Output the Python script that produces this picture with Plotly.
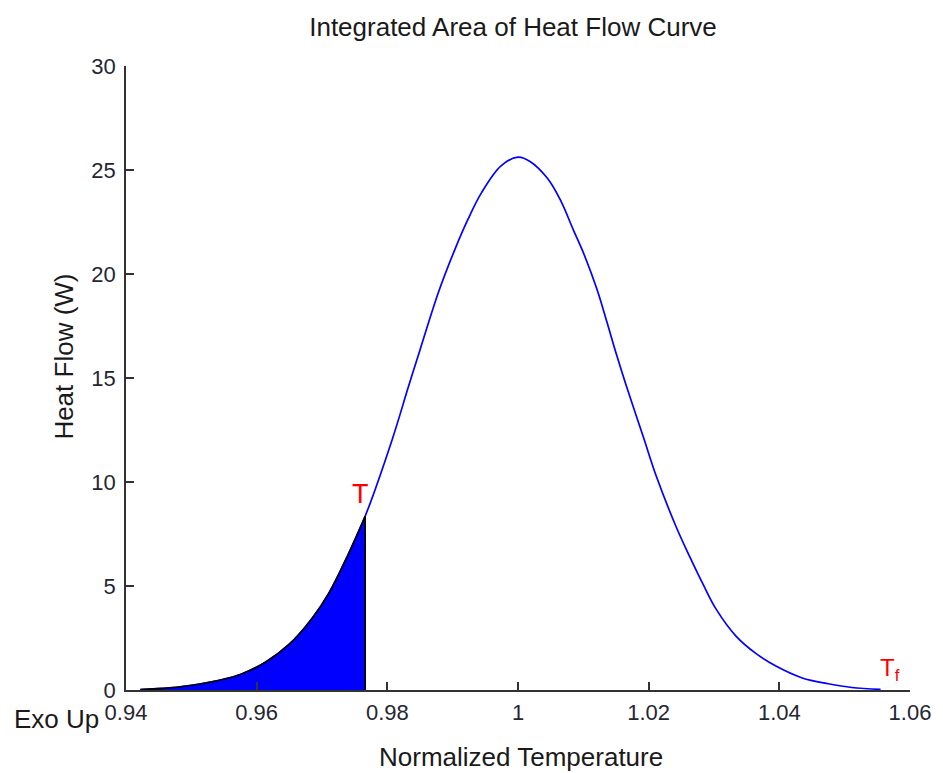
import plotly.graph_objects as go

# Heat flow curve sampled along the normalized temperature axis
temperature = [0.9422, 0.9467, 0.9513, 0.9543, 0.9576, 0.9614, 0.9650, 0.9685, 0.9711,
               0.9736, 0.9766, 0.9807, 0.9832, 0.9850, 0.9878, 0.9903, 0.9923, 0.9944,
               0.9974, 1.0000, 1.0019, 1.0045, 1.0065, 1.0085, 1.0101, 1.0121, 1.0136,
               1.0151, 1.0166, 1.0192, 1.0212, 1.0242, 1.0263, 1.0283, 1.0303, 1.0334,
               1.0364, 1.0394, 1.0435, 1.0475, 1.0511, 1.0555]
heat_flow = [0.02, 0.10, 0.29, 0.47, 0.76, 1.35, 2.20, 3.45, 4.68,
             6.24, 8.35, 12.00, 14.55, 16.35, 19.10, 21.15, 22.60, 23.90,
             25.20, 25.62, 25.40, 24.60, 23.55, 22.10, 20.95, 19.25, 17.70,
             16.10, 14.60, 12.15, 10.25, 7.85, 6.40, 5.10, 3.90, 2.58,
             1.76, 1.16, 0.58, 0.30, 0.12, 0.03]

# Integration limit T (end of shaded region)
t_limit = 0.9766

x_ticks = [0.94, 0.96, 0.98, 1.00, 1.02, 1.04, 1.06]
x_tick_labels = ["0.94", "0.96", "0.98", "1", "1.02", "1.04", "1.06"]
y_ticks = [0, 5, 10, 15, 20, 25, 30]

k = temperature.index(t_limit)
shade_x = temperature[:k + 1]
shade_y = heat_flow[:k + 1]

FONT = "Liberation Sans, Arial"
fig = go.Figure()

fig.add_trace(go.Scatter(
    x=temperature, y=heat_flow, mode="lines",
    line=dict(color="#0000ff", width=1.7, shape="spline", smoothing=1.0),
    hoverinfo="skip", showlegend=False,
))

fig.add_trace(go.Scatter(
    x=shade_x, y=shade_y, mode="lines", fill="tozeroy",
    fillcolor="#0000ff",
    line=dict(color="#000000", width=1.7, shape="spline", smoothing=1.0),
    hoverinfo="skip", showlegend=False,
))

fig.add_trace(go.Scatter(
    x=[shade_x[-1], shade_x[-1]], y=[0, shade_y[-1]], mode="lines",
    line=dict(color="#000000", width=1.7),
    hoverinfo="skip", showlegend=False,
))

red = "#ff0000"
fig.add_annotation(x=shade_x[-1], y=shade_y[-1], text="T", showarrow=False,
                   xanchor="center", yanchor="bottom", xshift=-5, yshift=5,
                   font=dict(family=FONT, size=27, color=red))
fig.add_annotation(x=temperature[-1], y=heat_flow[-1], text="T<sub>f</sub>", showarrow=False,
                   xanchor="left", yanchor="bottom", xshift=-3, yshift=2,
                   font=dict(family=FONT, size=24, color=red))

txt = "#1a1a1a"
fig.add_annotation(xref="paper", yref="paper", x=-0.0785, y=0.535,
                   xanchor="center", yanchor="middle",
                   text="Heat Flow (W)", textangle=-90, showarrow=False,
                   font=dict(family=FONT, size=26, color=txt))
fig.add_annotation(xref="paper", yref="paper", x=0.504, y=-0.107,
                   xanchor="center", yanchor="middle",
                   text="Normalized Temperature", showarrow=False,
                   font=dict(family=FONT, size=26, color=txt))
fig.add_annotation(xref="paper", yref="paper", x=-0.0884, y=-0.046,
                   xanchor="center", yanchor="middle",
                   text="Exo Up", showarrow=False,
                   font=dict(family=FONT, size=26, color=txt))

fig.update_layout(
    width=943, height=773,
    margin=dict(l=126, r=25, t=66, b=83),
    paper_bgcolor="white", plot_bgcolor="white",
    title=dict(text="Integrated Area of Heat Flow Curve", x=0.544, xanchor="center",
               y=0.965, yanchor="middle",
               font=dict(family=FONT, size=26, color=txt)),
    font=dict(family=FONT, color="#262633"),
)

fig.update_xaxes(
    range=[0.94, 1.06], tickvals=x_ticks, ticktext=x_tick_labels,
    showgrid=False, zeroline=False, showline=True, linecolor="#333333", linewidth=1.5,
    ticks="inside", ticklen=8, tickwidth=1.5, tickcolor="#333333",
    tickfont=dict(family=FONT, size=22, color="#262633"), ticklabelstandoff=2,
)
fig.update_yaxes(
    range=[0, 30], tickvals=y_ticks,
    showgrid=False, zeroline=False, showline=True, linecolor="#333333", linewidth=1.5,
    ticks="inside", ticklen=8, tickwidth=1.5, tickcolor="#333333",
    tickfont=dict(family=FONT, size=22, color="#262633"), ticklabelstandoff=4,
)

fig.write_html("out.html")
